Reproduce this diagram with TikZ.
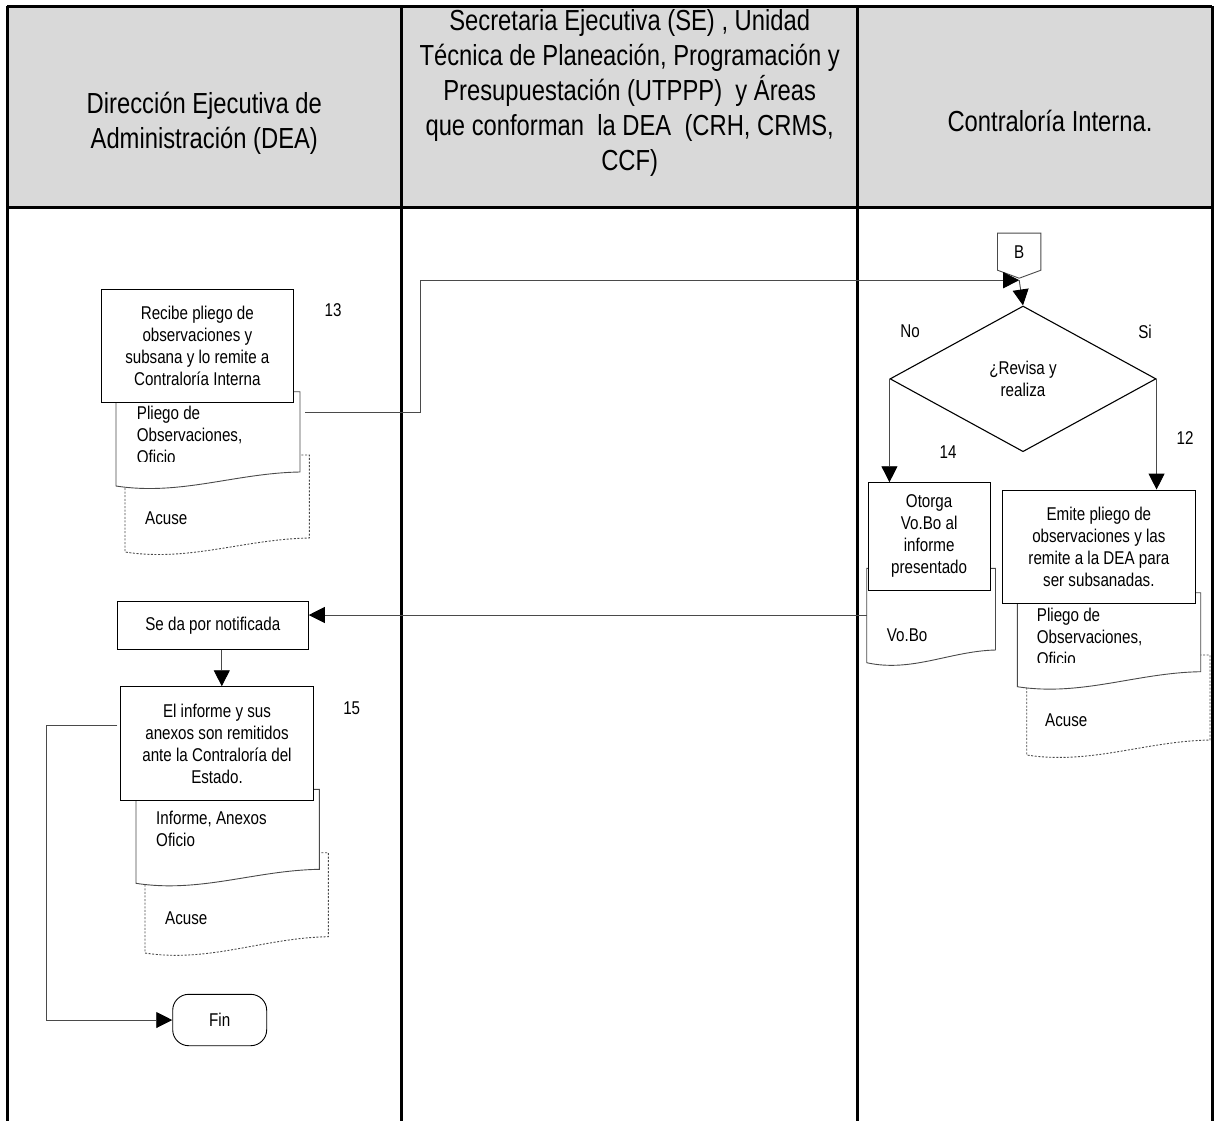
\documentclass[tikz,border=0pt]{standalone}
\usepackage{fontspec}
\setmainfont{Liberation Sans}[FakeStretch=0.82]
\usetikzlibrary{shapes.geometric,arrows.meta}
\definecolor{hdr}{HTML}{D9D9D9}
\definecolor{ln}{HTML}{4A4A4A}
\newcommand{\bodyfnt}{\fontsize{18.5}{22}\selectfont}
\newcommand{\hdrfnt}{\fontsize{29}{35}\selectfont}
% #1 options, #2 left, #3 top, #4 right, #5 bottom-right, #6 bottom-left
\newcommand{\docshape}[6]{%
  \path[#1] (#2,#3) -- (#4,#3) -- (#4,#5)
    .. controls ({#4-0.35*(#4-#2)},{#5+1}) and ({#2+0.35*(#4-#2)},{#6+10}) .. (#2,#6) -- cycle;}
\begin{document}
\begin{tikzpicture}[x=1pt,y=-1pt,
  lane/.style={draw=black,line width=3pt},
  hnode/.style={font=\hdrfnt,align=center,inner sep=0pt},
  box/.style={draw=black,line width=0.9pt,fill=white,align=center,inner sep=2pt,font=\bodyfnt},
  doc/.style={draw=ln,line width=0.9pt,fill=white},
  dashdoc/.style={draw=ln,line width=0.9pt,fill=white,dash pattern=on 2pt off 1.6pt},
  doctxt/.style={font=\bodyfnt,align=left,inner sep=0pt,anchor=north west},
  doclbl/.style={font=\bodyfnt,inner sep=0pt,anchor=west},
  lbl/.style={font=\bodyfnt,inner sep=0pt},
  conn/.style={draw=ln,line width=0.9pt,-{Triangle[length=16pt,width=16pt,color=black]}},
  plain/.style={draw=ln,line width=0.9pt}]
\useasboundingbox (0,0) rectangle (1214,1120);
% header
\fill[hdr] (7,6) rectangle (1212,207.7);
\draw[lane] (7,6) -- (1212,6);
\draw[lane] (7,207.7) -- (1212,207.7);
\draw[lane] (7,6) -- (7,1121);
\draw[lane] (401.7,6) -- (401.7,1121);
\draw[lane] (857.7,6) -- (857.7,1121);
\draw[lane] (1212,6) -- (1212,1121);
\node[hnode] (h1) at (204.3,123) {Dirección Ejecutiva de\\Administración (DEA)};
\node[hnode] (h2) at (629.7,93) {Secretaria Ejecutiva (SE) , Unidad\\Técnica de Planeación, Programación y\\Presupuestación (UTPPP)\ \ y Áreas\\que conforman\ \ la DEA\ \ (CRH, CRMS,\\CCF)};
\node[hnode] (h3) at (1050,121) {Contraloría Interna.};
% documents, left lane top
\docshape{dashdoc}{125}{455}{309.3}{538}{552}
\docshape{doc}{116}{391.7}{300}{472}{486}
\begin{scope}
  \clip (100,380) rectangle (310,461);
  \node[doctxt] (d1t) at (136.7,406) {Pliego de\\Observaciones,\\Oficio};
\end{scope}
\node[doclbl] (d1a) at (145,518) {Acuse};
\coordinate (d1out) at (305,412.7);
% documents, right lane
\docshape{doc}{866.7}{568.3}{995.5}{650}{662.7}
\node[doclbl] (vbt) at (886.7,635) {Vo.Bo};
\coordinate (vbin) at (866.7,615);
\docshape{dashdoc}{1026.7}{655}{1210}{740}{755}
\docshape{doc}{1017.3}{592.7}{1200.7}{671.7}{686.7}
\begin{scope}
  \clip (1000,590) rectangle (1205,662.5);
  \node[doctxt] (d2t) at (1036.7,608) {Pliego de\\Observaciones,\\Oficio};
\end{scope}
\node[doclbl] (d2a) at (1045,720) {Acuse};
% documents, left lane bottom
\docshape{dashdoc}{145}{852.7}{328.3}{936.7}{953}
\docshape{doc}{136}{789.3}{319.3}{869.3}{883.3}
\node[doctxt] (d3t) at (156,811) {Informe, Anexos\\Oficio};
\node[doclbl] (d3a) at (165,918.3) {Acuse};
% process boxes
\node[box,minimum width=191.3pt,minimum height=113.7pt] (recibe) at (197.35,345.85)
  {Recibe pliego de\\observaciones y\\subsana y lo remite a\\Contraloría Interna};
\node[box,minimum width=121.7pt,minimum height=107.3pt] (otorga) at (929.15,536.35)
  {Otorga\\Vo.Bo al\\informe\\presentado};
\node[box,minimum width=192.3pt,minimum height=113.3pt] (emite) at (1098.85,546.65)
  {Emite pliego de\\observaciones y las\\remite a la DEA para\\ser subsanadas.};
\node[box,minimum width=191pt,minimum height=47.6pt] (seda) at (212.8,625.5) {Se da por notificada};
\node[box,minimum width=192.6pt,minimum height=114pt] (informe) at (217,743.7)
  {El informe y sus\\anexos son remitidos\\ante la Contraloría del\\Estado.};
\node[box,rounded corners=16pt,minimum width=94pt,minimum height=51.4pt] (fin) at (219.7,1020) {Fin};
% off-page connector B
\node[font=\bodyfnt,minimum width=43pt,minimum height=36.7pt,inner sep=0pt] (B) at (1019.2,251.65) {B};
\draw[plain] (B.south west) -- (B.north west) -- (B.north east) -- (B.south east) -- ([yshift=-8pt]B.south) -- cycle;
\coordinate (btip) at ([yshift=-10pt]B.south);
% decision
\node[diamond,draw=black,line width=1.1pt,minimum width=266pt,minimum height=145.7pt,inner sep=0pt,
  font=\bodyfnt,align=center] (dec) at (1023,378.85) {¿Revisa y\\realiza};
% labels
\node[lbl] (n13) at (333,310) {13};
\node[lbl] (n15) at (351.7,708.3) {15};
\node[lbl] (n14) at (948,451.7) {14};
\node[lbl] (n12) at (1185,438) {12};
\node[lbl] (lno) at (910,331.7) {No};
\node[lbl] (lsi) at (1145,331.7) {Si};
% connectors
\draw[conn] (d1out) -- ++(115,0) |- (btip);
\draw[conn] (btip) -- (dec.north);
\draw[conn] (dec.west) -- (dec.west |- otorga.north);
\draw[conn] (dec.east) -- (dec.east |- emite.north);
\draw[conn] (vbin) -- (vbin -| seda.east);
\draw[conn] ([xshift=9pt]seda.south) -- ([xshift=9pt]seda.south |- informe.north);
\draw[conn] ([yshift=18.7pt,xshift=-3pt]informe.west) -- ++(-70.6,0) |- (fin.west);
\end{tikzpicture}
\end{document}
